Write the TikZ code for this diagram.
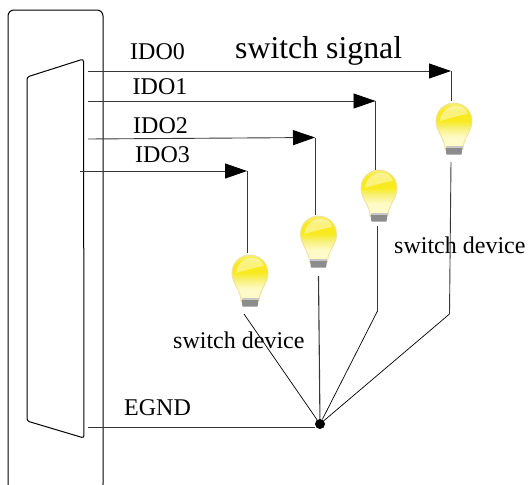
\documentclass[tikz,border=0pt]{standalone}
\usepackage{fontspec}
\setmainfont{Liberation Serif}
\usetikzlibrary{arrows.meta,calc}
\definecolor{wire}{gray}{0.22}
\definecolor{glassmid}{HTML}{F8EA1E}
\definecolor{glasslow}{HTML}{FFFBC8}
\definecolor{glasstop}{HTML}{F7F07A}
\definecolor{glassedge}{HTML}{EFE3A0}
\pgfdeclareverticalshading{bulbglass}{52bp}{
  color(0bp)=(glasslow);
  color(14bp)=(glasslow);
  color(24bp)=(glasstop);
  color(32bp)=(glassmid);
  color(42bp)=(glassmid);
  color(52bp)=(glasstop)}
\tikzset{
  x=1pt,y=-1pt,
  wireline/.style={draw=wire,line width=0.9pt},
  thinwire/.style={draw=black,line width=0.7pt},
  body/.style={draw=black,line width=1pt},
  sig/.style={wireline,-{Triangle[length=22pt,width=15pt,color=black]}},
  lab/.style={anchor=base west,inner sep=0pt,font=\fontsize{24}{26}\selectfont},
  biglab/.style={anchor=base west,inner sep=0pt,font=\fontsize{31.8}{34}\selectfont},
  bulbspot/.style={inner sep=0pt,minimum width=36pt,minimum height=52pt},
  pics/bulb/.style={code={
    \path[draw=glassedge,line width=0.9pt,shading=bulbglass]
      (-9,20) .. controls (-9,9) and (-18,3) .. (-18,-8)
      .. controls (-18,-19) and (-9,-26) .. (0,-26)
      .. controls (9,-26) and (18,-19) .. (18,-8)
      .. controls (18,3) and (9,9) .. (9,20) -- cycle;
    \fill[black!45!white] (-8.5,19) -- (8.5,19) -- (7.5,25.5) -- (-7.5,25.5) -- cycle;
    \fill[black!22!white] (-8.5,16.5) rectangle (8.5,19);
    \fill[white,opacity=0.42] (-14,-8) .. controls (-13,-18) and (-5,-23) .. (2,-23)
      .. controls (9,-23) and (12,-20) .. (14,-15)
      .. controls (6,-14) and (-4,-11) .. (-14,-8) -- cycle;
  }}
}
\begin{document}
\begin{tikzpicture}
\useasboundingbox (0,0) rectangle (531,485);
\clip (0,0) rectangle (531,485);
% housing and connector
\draw[body,rounded corners=6pt] (8,10) rectangle (103,490);
\draw[body,rounded corners=2.5pt] (27,77) -- (83.5,59) -- (84,438) -- (27,421) -- cycle;
% bulbs
\node[bulbspot] (b0) at (454,129) {};
\node[bulbspot] (b1) at (379,196) {};
\node[bulbspot] (b2) at (318.5,242) {};
\node[bulbspot] (b3) at (250,281) {};
\pic at (b0) {bulb};
\pic at (b1) {bulb};
\pic at (b2) {bulb};
\pic at (b3) {bulb};
% terminals and bends
\coordinate (s0) at (88,71);   \coordinate (t0) at (451,71);  \coordinate (u0) at (451,101);
\coordinate (s1) at (88,101);  \coordinate (t1) at (375.5,101); \coordinate (u1) at (375.5,170);
\coordinate (s2) at (88,139);  \coordinate (t2) at (315,137.5); \coordinate (u2) at (315,215);
\coordinate (s3) at (80,171);  \coordinate (t3) at (247,171);  \coordinate (u3) at (247,253);
\coordinate (v0) at (451,162); \coordinate (w0) at (449.5,314);
\coordinate (v1) at (377.5,226); \coordinate (w1) at (377.5,311);
\coordinate (v2) at (318.5,276);
\coordinate (v3) at (244,314);
\coordinate (sg) at (88,427);
\node[circle,fill=black,inner sep=0pt,minimum size=10pt] (gnd) at (320,424) {};
% signal wires
\draw[sig] (s0) -- (t0);
\draw[sig] (s1) -- (t1);
\draw[sig] (s2) -- (t2);
\draw[sig] (s3) -- (t3);
\draw[wireline] (t0) -- (u0);
\draw[wireline] (t1) -- (u1);
\draw[wireline] (t2) -- (u2);
\draw[wireline] (t3) -- (u3);
% return wires
\draw[wireline] (v0) -- (w0);
\draw[thinwire] (w0) -- (gnd);
\draw[wireline] (v1) -- (w1);
\draw[thinwire] (w1) -- (gnd);
\draw[wireline,line width=1.1pt] (v2) -- (gnd);
\draw[thinwire] (v3) -- (gnd);
\draw[wireline] (sg) -- (gnd.west |- sg);
% labels
\node[lab] (l0) at (130,59) {IDO0};
\node[lab] (l1) at (132.5,94.5) {IDO1};
\node[lab] (l2) at (133,133) {IDO2};
\node[lab] (l3) at (135,162) {IDO3};
\node[biglab] (title) at (235,58.5) {switch signal};
\node[lab] (d1) at (173,348) {switch device};
\node[lab] (d2) at (394,253) {switch device};
\node[lab] (eg) at (124,415) {EGND};
\end{tikzpicture}
\end{document}
